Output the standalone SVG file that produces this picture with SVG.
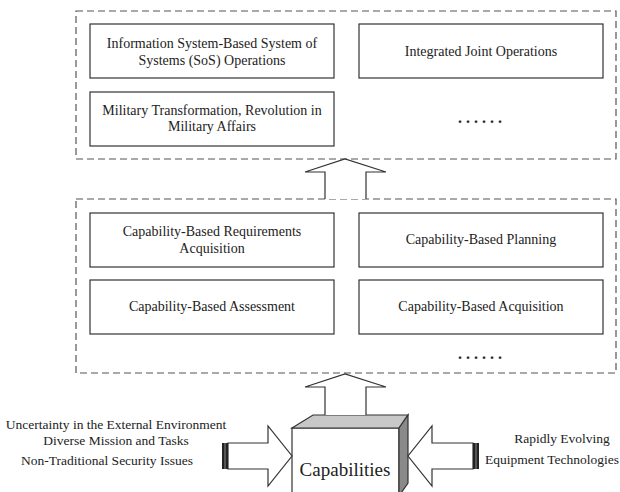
<svg xmlns="http://www.w3.org/2000/svg" width="620" height="492" viewBox="0 0 620 492" font-family="Liberation Serif, Times New Roman, serif">
<style>
text{fill:#222;font-size:14px;text-anchor:middle}
.box{fill:#fff;stroke:#333;stroke-width:1.2}
.dash{fill:none;stroke:#555;stroke-width:1.2;stroke-dasharray:7 4}
.arrow{fill:#fff;stroke:#333;stroke-width:1.2;stroke-linejoin:miter}
.dots{font-size:16px;font-weight:bold;letter-spacing:4px}
.side{font-size:13.5px}
</style>
<rect width="620" height="492" fill="#fff"/>
<g id="layer-top">
<rect class="dash" x="76" y="11" width="540" height="148"/>
</g>
<g id="n-sos"><rect class="box" x="90" y="24" width="244" height="54"/><text x="212" y="48">Information System-Based System of</text><text x="212" y="65">Systems (SoS) Operations</text></g>
<g id="n-joint"><rect class="box" x="359" y="24" width="244" height="54"/><text x="481" y="56">Integrated Joint Operations</text></g>
<g id="n-mil"><rect class="box" x="90" y="92" width="244" height="54"/><text x="212" y="115">Military Transformation, Revolution in</text><text x="212" y="131">Military Affairs</text></g>
<g id="n-dots1"><text class="dots" x="482" y="123">......</text></g>
<g id="layer-mid">
<rect class="dash" x="76" y="199" width="540" height="174"/>
</g>
<g id="n-req"><rect class="box" x="90" y="213" width="244" height="54"/><text x="212" y="236">Capability-Based Requirements</text><text x="212" y="253">Acquisition</text></g>
<g id="n-plan"><rect class="box" x="359" y="213" width="244" height="54"/><text x="481" y="244">Capability-Based Planning</text></g>
<g id="n-assess"><rect class="box" x="90" y="280" width="244" height="54"/><text x="212" y="311">Capability-Based Assessment</text></g>
<g id="n-acq"><rect class="box" x="359" y="280" width="244" height="54"/><text x="481" y="311">Capability-Based Acquisition</text></g>
<g id="n-dots2"><text class="dots" x="482" y="359">......</text></g>
<g id="n-cap">
<rect x="292" y="428" width="107" height="70" fill="#fff" stroke="#333" stroke-width="1.2"/>
<polygon points="292,428 313,415 408,415 399,428" fill="#c8c8c8" stroke="#333" stroke-width="1.2"/>
<polygon points="399,428 408,415 408,483 399,496" fill="#8a8a8a" stroke="#333" stroke-width="1.2"/>
<text x="345" y="476" style="font-size:19px">Capabilities</text>
</g>
<g id="n-left-label">
<text class="side" x="116" y="429">Uncertainty in the External Environment</text>
<text class="side" x="116" y="445">Diverse Mission and Tasks</text>
<text class="side" x="107" y="465">Non-Traditional Security Issues</text>
</g>
<g id="n-right-label">
<text class="side" x="562" y="443">Rapidly Evolving</text>
<text class="side" x="552" y="464">Equipment Technologies</text>
</g>
<g id="connectors">
<polyline class="arrow" points="325,199 325,172 305,172 345,159 386,172 366,172 366,199"/>
<polyline class="arrow" points="325,415 325,387 305,387 345,374 386,387 366,387 366,415"/>
<polygon class="arrow" points="228,443 268,443 268,426 292,456 268,486 268,469 228,469"/>
<rect x="222" y="443" width="6" height="26" fill="#222"/>
<line x1="225" y1="443" x2="225" y2="469" stroke="#888" stroke-width="1"/>
<polygon class="arrow" points="473,443 432,443 432,426 408,456 432,486 432,469 473,469"/>
<rect x="473" y="443" width="6" height="26" fill="#222"/>
<line x1="476" y1="443" x2="476" y2="469" stroke="#888" stroke-width="1"/>
</g>
</svg>
